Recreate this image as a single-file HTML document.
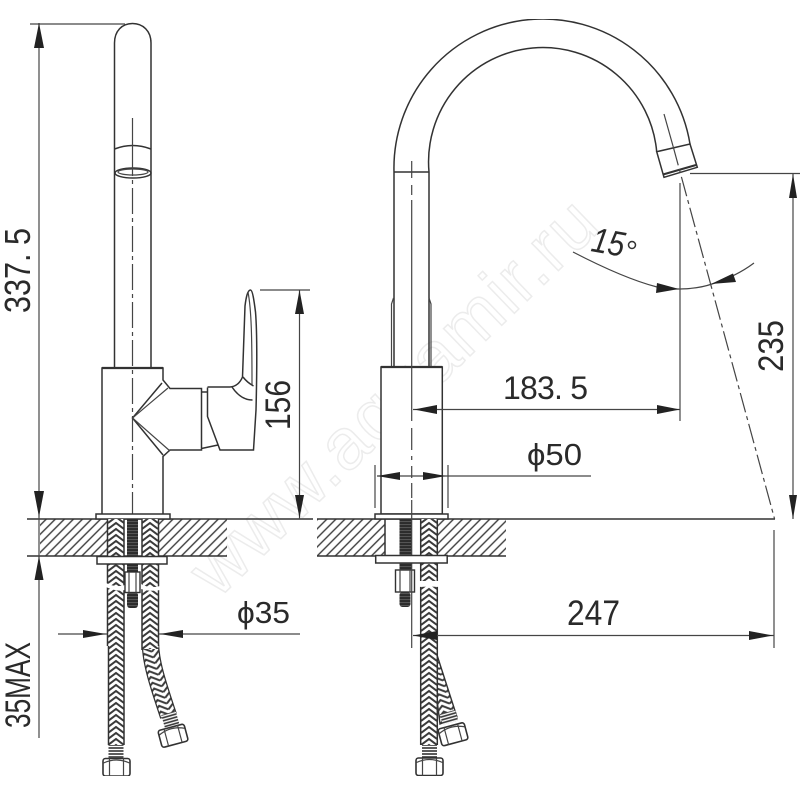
<!DOCTYPE html>
<html><head><meta charset="utf-8"><style>
html,body{margin:0;padding:0;background:#fff;width:800px;height:800px;overflow:hidden}
svg{display:block}
text{font-family:"Liberation Sans",sans-serif;fill:#2a2a2a}
.l{fill:none;stroke:#333;stroke-width:1.5}
.t{fill:none;stroke:#444;stroke-width:1.2}
.c{fill:none;stroke:#444;stroke-width:1.2;stroke-dasharray:26 4 4 4}
.a{fill:#222;stroke:none}
</style></head><body>
<svg width="800" height="800" viewBox="0 0 800 800" xmlns="http://www.w3.org/2000/svg">
<defs>
<pattern id="hatch" width="6.4" height="8" patternUnits="userSpaceOnUse" patternTransform="rotate(45)">
<rect width="6.4" height="8" fill="#fff"/><line x1="3" y1="0" x2="3" y2="8" stroke="#3c3c3c" stroke-width="1.4"/>
</pattern>
<pattern id="hose" width="16" height="6" patternUnits="userSpaceOnUse">
<rect width="16" height="6" fill="#fff"/><path d="M0 7L8 1L16 7M0 1L8 -5L16 1M0 13L8 7L16 13" fill="none" stroke="#3a3a3a" stroke-width="2"/>
</pattern>
<pattern id="hose2" width="16" height="6" patternUnits="userSpaceOnUse" patternTransform="translate(150,645) rotate(-16)">
<rect width="16" height="6" fill="#fff"/><path d="M0 7L8 1L16 7M0 1L8 -5L16 1M0 13L8 7L16 13" fill="none" stroke="#3a3a3a" stroke-width="2"/>
</pattern>
<pattern id="thread" width="12" height="3" patternUnits="userSpaceOnUse">
<rect width="12" height="3" fill="#555"/><line x1="0" y1="1" x2="12" y2="1" stroke="#1c1c1c" stroke-width="1.4"/>
</pattern>
<pattern id="rib" width="12" height="3" patternUnits="userSpaceOnUse">
<rect width="12" height="3" fill="#fff"/><line x1="0" y1="1" x2="12" y2="1" stroke="#333" stroke-width="1.6"/>
</pattern>
<filter id="b" x="0" y="0" width="100%" height="100%"><feGaussianBlur stdDeviation="0.35"/></filter>
</defs>
<rect width="800" height="800" fill="#fff"/>

<!-- watermark -->
<text x="0" y="0" transform="translate(410,414) rotate(-44)" text-anchor="middle" font-size="72" textLength="534" lengthAdjust="spacing" style="fill:#fff;stroke:#ececec;stroke-width:1.5">www.aquamir.ru</text>

<g filter="url(#b)">
<!-- worktop -->
<rect x="40" y="519" width="67" height="37" fill="url(#hatch)"/>
<rect x="159" y="519" width="68" height="37" fill="url(#hatch)"/>
<rect x="317" y="519" width="68" height="37" fill="url(#hatch)"/>
<rect x="437" y="519" width="69" height="37" fill="url(#hatch)"/>
<path class="l" d="M27 519H313M317 519H775M27 556H227M317 556H506"/>

<!-- LEFT VIEW -->
<path class="l" d="M114.5 368V43C114.5 31 122 23.500 132.500 23.500C143 23.500 151 31 151 43V368"/>
<path class="l" d="M114.500 149Q132.500 142 151 149"/>
<ellipse class="l" cx="133" cy="173" rx="18" ry="5"/>
<ellipse class="t" cx="133" cy="172" rx="15" ry="3"/>
<line class="t" x1="132.500" y1="118" x2="132.500" y2="150"/>
<line class="c" x1="132.500" y1="150" x2="132.500" y2="515"/>
<!-- body -->
<path class="l" d="M102 515V368H163V380L170 388.500H201.500V450H170L163 456.500V515"/>
<path class="l" d="M102 368H163" style="stroke-width:2.2"/>
<path class="l" d="M162 383L132.500 418L163 455"/>
<path class="t" d="M168 388L132.500 418L170 451"/>
<!-- handle -->
<path class="l" d="M201.500 392H207.500M201.500 448.500L218 445"/>
<path class="l" d="M207.500 387.500V416.500L220 450H253.500L256 410C257 370 257 330 255.500 312C254 300 252.500 290 250.500 290C247.500 290 246 298 245 306L242.500 377C240 383 236 386.500 230 387H207.500"/>
<path class="t" d="M248 292C251.500 310 252 340 252 385"/>
<path class="l" d="M232 387C238 396 245 400 252.500 400M243 377C246 381 250 384 253.500 386"/>
<rect x="96" y="514" width="74" height="5" fill="#fff" stroke="#333" stroke-width="1.5"/>

<!-- left hoses -->
<g transform="translate(108,0)"><rect x="0" y="519" width="16" height="226" fill="url(#hose)"/></g>
<path class="l" d="M107.500 519V646M124 519V745M108.500 646V745"/>
<path d="M150.500 645C151 665 160 690 168.500 716" fill="none" stroke="#333" stroke-width="17.500"/>
<path d="M150.500 645C151 665 160 690 168.500 716" fill="none" stroke="url(#hose2)" stroke-width="15"/>
<g transform="translate(142,0)"><rect x="0" y="519" width="16.500" height="130" fill="url(#hose)"/></g>
<path class="l" d="M142 519V650M158.500 519V646"/>
<path d="M106 583Q116 588 125 585L125 590Q116 592 106 587ZM141 584Q150 589 160 586L160 590Q150 592 141 589Z" fill="#fff"/>
<!-- bolt -->
<rect x="127" y="519" width="11" height="53" fill="url(#thread)"/>
<rect x="127" y="592" width="11" height="16" rx="3" fill="url(#thread)"/>
<rect x="125" y="572" width="15" height="20.500" fill="#fff" stroke="#333" stroke-width="1.400"/>
<path class="t" d="M129 572V592.500M136 572V592.500"/>
<rect x="97" y="556.500" width="70" height="7.500" fill="#fff" stroke="#333" stroke-width="1.5"/>
<!-- left nuts -->
<rect x="108.500" y="745" width="15" height="14" fill="url(#rib)"/>
<g transform="translate(116.500,767)">
<rect x="-13.500" y="-8.500" width="27" height="17.500" rx="2.500" fill="#fff" stroke="#333" stroke-width="1.600"/>
<path class="t" d="M-7 -8.500V9M7 -8.500V9M-13 -4Q0 -10 13 -4"/></g>
<g transform="translate(169,715) rotate(-16)"><rect x="-7.500" y="-2" width="15" height="13" fill="url(#rib)"/></g>
<g transform="translate(173,735.500) rotate(-15)">
<rect x="-13.500" y="-8.500" width="27" height="17.500" rx="2.500" fill="#fff" stroke="#333" stroke-width="1.600"/>
<path class="t" d="M-7 -8.500V9M7 -8.500V9M-13 -4Q0 -10 13 -4"/></g>

<!-- RIGHT VIEW -->
<path class="l" d="M394 367V172A149 149 0 0 1 690 144"/>
<path class="l" d="M429 367V172A114 114 0 0 1 656.700 151.700"/>
<path class="l" d="M394 172H429"/>
<path class="t" d="M391.500 366V304L393.500 298M431 366V304L429 298"/>
<path class="l" d="M656.700 151.700L690 144L697.300 167.300L664 177.300Z"/>
<path class="l" d="M663 174.500L696 165" style="stroke-width:2.200"/>
<rect x="381" y="367" width="61.300" height="147" fill="#fff" stroke="#333" stroke-width="1.500"/>
<path class="l" d="M381 367H442.300" style="stroke-width:2.200"/>
<line class="t" x1="411.700" y1="161" x2="411.700" y2="172"/>
<path class="t" d="M411.700 172V178M411.700 185V195M411.700 200V421M411.700 428V450M411.700 456V460M411.700 466V478M411.700 483V498"/>
<rect x="375" y="514" width="73" height="5" fill="#fff" stroke="#333" stroke-width="1.500"/>
<path class="t" d="M375 465V508M448 465V508"/>
<!-- right hardware -->
<path class="l" d="M385 519V556M437 519V556"/>
<rect x="399.500" y="519" width="12" height="52" fill="url(#thread)"/>
<rect x="399.500" y="592" width="11" height="15" rx="3" fill="url(#thread)"/>
<rect x="395.500" y="570" width="19" height="22" fill="#fff" stroke="#333" stroke-width="1.400"/>
<path class="t" d="M400 570V592M410 570V592"/>
<line class="t" x1="411.700" y1="500" x2="411.700" y2="648"/>
<!-- bent hose behind -->
<path d="M437 655L457 717L440 724L437 700Z" fill="url(#hose2)" stroke="#333" stroke-width="1.400"/>
<g transform="translate(421,0)"><rect x="0" y="519" width="16" height="226" fill="url(#hose)"/></g>
<path class="l" d="M420.700 519V745M437.300 519V745"/>
<path d="M418 581H440V587L430 586.500L418 587Z" fill="#fff"/>
<rect x="375.700" y="555.500" width="71.500" height="7.500" fill="#fff" stroke="#333" stroke-width="1.500"/>
<rect x="422" y="745" width="15" height="14" fill="url(#rib)"/>
<g transform="translate(429.500,766.500)">
<rect x="-13.500" y="-8.500" width="27" height="17.500" rx="2.500" fill="#fff" stroke="#333" stroke-width="1.600"/>
<path class="t" d="M-7 -8.500V9M7 -8.500V9M-13 -4Q0 -10 13 -4"/></g>
<g transform="translate(448,714) rotate(-16)"><rect x="-8" y="-2" width="16" height="11" fill="url(#rib)"/></g>
<g transform="translate(453,734) rotate(-15)">
<rect x="-13.500" y="-8.500" width="27" height="17.500" rx="2.500" fill="#fff" stroke="#333" stroke-width="1.600"/>
<path class="t" d="M-7 -8.500V9M7 -8.500V9M-13 -4Q0 -10 13 -4"/></g>

<!-- Dimensions -->
<path class="t" d="M30 24H125M39 23V738"/>
<polygon class="a" points="39,23 44,48 34,48"/>
<polygon class="a" points="39,517 44,491 34,491"/>
<polygon class="a" points="39,556 43.500,580 34.500,580"/>
<text transform="translate(30,270.500) rotate(-90)" text-anchor="middle" font-size="36" textLength="85" lengthAdjust="spacingAndGlyphs">337. 5</text>
<text transform="translate(30,685) rotate(-90)" text-anchor="middle" font-size="35" textLength="86" lengthAdjust="spacingAndGlyphs">35MAX</text>

<path class="t" d="M260 290H310M299.500 290V519"/>
<polygon class="a" points="299.500,290 304,314 295,314"/>
<polygon class="a" points="299.500,518 304,495 295,495"/>
<text transform="translate(290,405) rotate(-90)" text-anchor="middle" font-size="35" textLength="50" lengthAdjust="spacingAndGlyphs">156</text>

<path class="t" d="M58 634H107M159 634H300"/>
<polygon class="a" points="106,634 83,630 83,638"/>
<polygon class="a" points="160,634 183,630 183,638"/>
<text x="237" y="623" font-size="31" textLength="53" lengthAdjust="spacingAndGlyphs">ϕ35</text>

<path class="t" d="M413 635.500H774M774 530V648"/>
<polygon class="a" points="413,635.500 437,631 437,640"/>
<polygon class="a" points="773,635.500 749,631 749,640"/>
<text x="567" y="625" font-size="35" textLength="53" lengthAdjust="spacingAndGlyphs">247</text>

<path class="t" d="M413 409.500H680M680 183V421"/>
<polygon class="a" points="414,409.500 437,405 437,414"/>
<polygon class="a" points="680,409.500 657,405 657,414"/>
<text x="503" y="399" font-size="32" textLength="85" lengthAdjust="spacing">183. 5</text>

<path class="t" d="M377 476H591"/>
<polygon class="a" points="377,476 400,472 400,480"/>
<polygon class="a" points="446,476 423,472 423,480"/>
<text x="527" y="465" font-size="31" textLength="55" lengthAdjust="spacingAndGlyphs">ϕ50</text>

<path class="t" d="M690 173.500H800M793 173V519"/>
<polygon class="a" points="793,174 797,198 789,198"/>
<polygon class="a" points="793,519 797,495 789,495"/>
<text transform="translate(783,346) rotate(-90)" text-anchor="middle" font-size="35" textLength="52" lengthAdjust="spacingAndGlyphs">235</text>

<!-- angle -->
<line class="t" x1="664" y1="114" x2="673" y2="146"/>
<line class="c" x1="673" y1="146" x2="774.600" y2="519" style="stroke-dasharray:20 4 4 4"/>
<path class="t" d="M573 252C600 266 630 280 657 287C670 290 695 290 712 284C728 279 742 272 754 263"/>
<polygon class="a" points="679,289 657,283 656,293"/>
<polygon class="a" points="711,284 733,273.500 736,282"/>
<text transform="translate(590,251) rotate(10)" font-size="35" font-style="italic" textLength="33" lengthAdjust="spacingAndGlyphs">15</text>
<circle cx="632" cy="245" r="3.500" fill="none" stroke="#333" stroke-width="1.500"/>
</g>
</svg>
</body></html>
